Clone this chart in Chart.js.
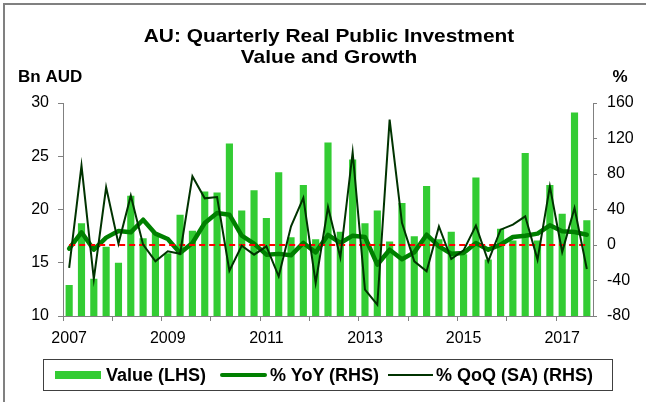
<!DOCTYPE html>
<html>
<head>
<meta charset="utf-8">
<script src="https://cdn.jsdelivr.net/npm/chart.js@4.4.0/dist/chart.umd.min.js"></script>
<style>
  body { margin: 0; background: #fff; }
  #wrap { position: relative; width: 646px; height: 402px; overflow: hidden; font-family: Arial, "Liberation Sans", sans-serif; }
  #frame { position: absolute; left: 3px; top: 3px; width: 700px; height: 500px; border-left: 2px solid #808080; border-top: 2px solid #808080; }
  #myChart { position: absolute; left: 0; top: 0; }
  #legend { position: absolute; left: 43px; top: 359px; width: 570px; height: 32px; border: 1px solid #404040;
            display: flex; align-items: center; font-weight: bold; font-size: 18px; color: #000; box-sizing: border-box; }
  #legend .sw { display: inline-block; }
</style>
</head>
<body>
<div id="wrap">
  <div id="frame"></div>
  <canvas id="myChart" width="646" height="402"></canvas>
  <div id="legend">
    <span class="sw" style="margin-left:11px;width:46px;height:8px;background:#33cc33"></span>
    <span style="margin-left:5px">Value (LHS)</span>
    <span class="sw" style="margin-left:14px;width:47px;height:4px;background:#008000;border-radius:2px"></span>
    <span style="margin-left:3px">% YoY (RHS)</span>
    <span class="sw" style="margin-left:9px;width:45px;height:2px;background:#003300"></span>
    <span style="margin-left:3px">% QoQ (SA) (RHS)</span>
  </div>
</div>
<script>
const years = [2007, 2008, 2009, 2010, 2011, 2012, 2013, 2014, 2015, 2016, 2017];
const tickYears = ['2007', '2009', '2011', '2013', '2015', '2017'];

// quarterly categories 2007 Q1 .. 2017 Q3
const quarters = [];
years.forEach(y => {
    for (let q = 1; q <= 4; q++) {
        if (y === 2017 && q > 3) break;
        quarters.push(y + ' Q' + q);
    }
});

const valueBn = [12.9, 18.7, 13.5, 16.5, 15.0, 21.3, 17.3, 17.8, 15.9, 19.5, 18.0,
    21.7, 21.6, 26.2, 19.9, 21.8, 19.2, 23.5, 17.4, 22.3, 17.2, 26.3,
    17.9, 24.7, 18.7, 19.9, 17.0, 20.6, 17.5, 22.2, 17.2, 17.9, 15.8,
    23.0, 15.3, 18.2, 17.1, 25.3, 17.1, 22.3, 19.6, 29.1, 19.0];

const yoyPct = [-4.1, 14.3, -5.3, 8.3, 15.8, 14.3, 28.5, 12.8, 6.8, -9.0, 2.3,
    24.8, 36.0, 34.2, 10.5, 1.5, -10.9, -10.0, -11.6, 2.3, -8.3, 11.3,
    2.3, 10.5, 9.0, -22.2, -5.3, -16.0, -8.3, 11.6, -1.5, -9.8, -9.0,
    2.3, -5.3, 0.4, 9.0, 10.5, 12.8, 22.2, 15.4, 14.6, 11.6];

const qoqPct = [-25.9, 89.4, -38.3, 65.0, 1.5, 55.6, 0.4, -18.4, -7.1, -9.8, 77.4,
    52.6, 54.0, -29.0, -0.8, -10.9, -1.5, -35.3, 21.0, 53.0, -42.8, 42.8,
    -13.9, 104.4, -50.3, -67.2, 141.2, 25.0, -18.4, -29.7, 21.0, -15.8, -6.0,
    21.8, -18.4, 17.3, 22.9, 32.3, -16.5, 66.1, -7.9, 41.7, -27.0];

const zeroLine = quarters.map(() => 0);

const axisGrey = '#808080';
const tickFont = { family: 'Arial, "Liberation Sans", sans-serif', size: 16 };

const headerText = {
    id: 'headerText',
    afterDraw(chart) {
        const ctx = chart.ctx;
        ctx.save();
        ctx.fillStyle = '#000';
        ctx.textBaseline = 'middle';
        ctx.textAlign = 'center';
        ctx.font = 'bold 19px Arial, "Liberation Sans", sans-serif';
        // title in the reference is a bit wider than plain Arial
        ctx.save();
        ctx.translate(329, 0);
        ctx.scale(1.1, 1);
        ctx.fillText('AU: Quarterly Real Public Investment', 0, 37);
        ctx.fillText('Value and Growth', 0, 58);
        ctx.restore();
        ctx.font = 'bold 17px Arial, "Liberation Sans", sans-serif';
        ctx.textAlign = 'left';
        ctx.fillText('Bn AUD', 18, 77);
        ctx.textAlign = 'center';
        ctx.fillText('%', 620, 77);
        ctx.restore();
    }
};

const ctx = document.getElementById('myChart').getContext('2d');
new Chart(ctx, {
    data: {
        labels: quarters,
        datasets: [
            {
                type: 'line', label: '% QoQ (SA) (RHS)', data: qoqPct, yAxisID: 'y2',
                borderColor: '#003300', borderWidth: 2, pointRadius: 0, tension: 0, order: 0
            },
            {
                type: 'line', label: 'zero', data: zeroLine, yAxisID: 'y2',
                borderColor: '#ff0000', borderWidth: 2, borderDash: [6, 4], pointRadius: 0, order: 1
            },
            {
                type: 'line', label: '% YoY (RHS)', data: yoyPct, yAxisID: 'y2',
                borderColor: '#008000', borderWidth: 4.5, pointRadius: 0, tension: 0,
                borderJoinStyle: 'round', borderCapStyle: 'round', order: 2
            },
            {
                type: 'bar', label: 'Value (LHS)', data: valueBn, yAxisID: 'y',
                backgroundColor: '#33cc33', categoryPercentage: 1, barPercentage: 0.58, order: 3
            }
        ]
    },
    options: {
        responsive: false,
        animation: false,
        layout: { padding: { left: 0, right: 0, top: 103, bottom: 0 } },
        plugins: { legend: { display: false }, tooltip: { enabled: false }, title: { display: false } },
        scales: {
            x: {
                offset: true,
                afterFit(scale) { scale.height = 86; },
                border: { color: axisGrey, width: 1 },
                grid: {
                    offset: true, drawOnChartArea: false, tickLength: 5,
                    color: c => (c.index % 4 === 0 ? axisGrey : 'rgba(0,0,0,0)')
                },
                ticks: {
                    autoSkip: false, maxRotation: 0, minRotation: 0, color: '#000', font: tickFont, padding: 8,
                    callback: (v, i) => (i % 8 === 0 ? tickYears[i / 8] : '')
                }
            },
            y: {
                position: 'left', min: 10, max: 30,
                afterFit(scale) { scale.width = 63; },
                border: { color: axisGrey, width: 1 },
                grid: { drawOnChartArea: false, tickLength: 5, color: axisGrey },
                ticks: { stepSize: 5, color: '#000', font: tickFont, padding: 9 }
            },
            y2: {
                position: 'right', min: -80, max: 160,
                afterFit(scale) { scale.width = 53; },
                border: { color: axisGrey, width: 1 },
                grid: { drawOnChartArea: false, tickLength: 4, color: axisGrey },
                ticks: { stepSize: 40, color: '#000', font: tickFont, padding: 10 }
            }
        }
    },
    plugins: [headerText]
});
</script>
</body>
</html>
